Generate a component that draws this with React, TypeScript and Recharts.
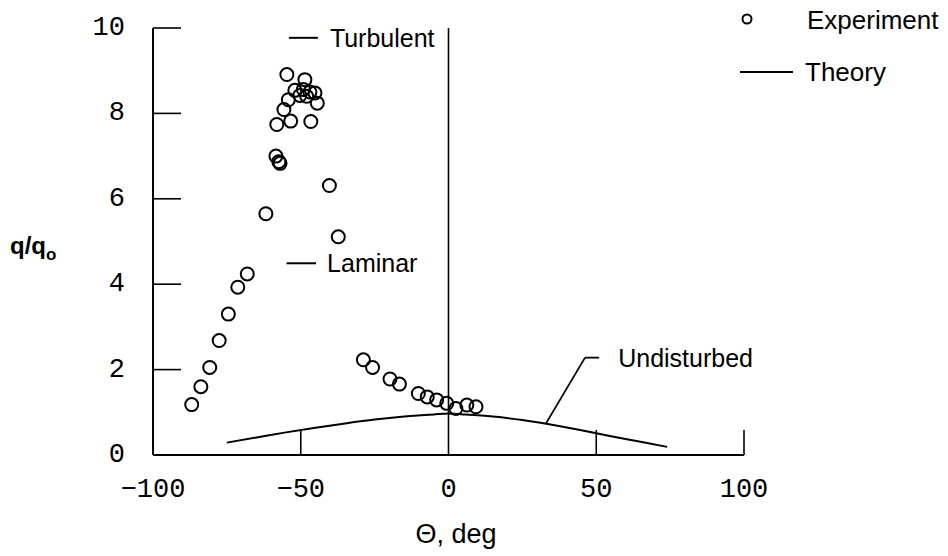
import React from "react";
import {
  ComposedChart,
  Line,
  Scatter,
  XAxis,
  YAxis,
  ReferenceLine,
  Legend,
} from "recharts";

// measured points, theta in deg
const expTheta = [
  -86.9, -83.8, -80.8, -77.6, -74.5, -71.3, -68.1, -61.8, -58.4, -57.0, -57.4,
  -58.1, -55.7, -54.2, -53.4, -54.7, -52.0, -50.3, -49.1, -48.6, -48.0, -46.9,
  -45.2, -46.6, -44.4, -40.3, -37.3, -28.8, -25.7, -19.8, -16.6, -10.2, -7.2,
  -4.0, -0.6, 2.5, 6.2, 9.3,
];
const expQ = [
  1.18, 1.6, 2.05, 2.68, 3.3, 3.93, 4.24, 5.65, 7.0, 6.83, 6.87, 7.74, 8.09,
  8.32, 7.82, 8.91, 8.54, 8.42, 8.56, 8.79, 8.4, 8.5, 8.48, 7.81, 8.24, 6.31,
  5.11, 2.23, 2.05, 1.78, 1.66, 1.44, 1.36, 1.29, 1.21, 1.09, 1.17, 1.13,
];

// undisturbed laminar theory
const theoryTheta = [-75, -65, -55, -45, -35, -25, -15, -5, 0, 5, 15, 25, 35, 45, 55, 65, 74];
const theoryQ = [0.29, 0.41, 0.53, 0.64, 0.74, 0.83, 0.9, 0.95, 0.97, 0.95, 0.9, 0.82, 0.71, 0.58, 0.44, 0.31, 0.19];

const xTicks = [-100, -50, 0, 50, 100];
const yTicks = [0, 2, 4, 6, 8, 10];

const experiment = expTheta.map((x, i) => ({ x, y: expQ[i] }));
const theory = theoryTheta.map((x, i) => ({ x, y: theoryQ[i] }));

const MONO = "'Liberation Mono', monospace";
const SANS = "'Liberation Sans', Arial, sans-serif";

const XTick = (props: any) => {
  const { x, y, payload } = props;
  const v = payload.value;
  const label = String(v).replace("-", "\u2212");
  return (
    <g>
      {v !== -100 && v !== 0 && (
        <line x1={x} y1={y} x2={x} y2={y - 25} stroke="#000" strokeWidth={1.6} />
      )}
      <text x={x} y={y + 42} textAnchor="middle" fontFamily={MONO} fontSize={27} fill="#000">
        {label}
      </text>
    </g>
  );
};

const YTick = (props: any) => {
  const { x, y, payload } = props;
  return (
    <g>
      {payload.value !== 0 && (
        <line x1={x} y1={y} x2={x + 28} y2={y} stroke="#000" strokeWidth={1.6} />
      )}
      <text x={x - 28} y={y} textAnchor="end" dominantBaseline="central" fontFamily={MONO} fontSize={27} fill="#000">
        {payload.value}
      </text>
    </g>
  );
};

const Ring = (props: any) => (
  <circle cx={props.cx} cy={props.cy} r={6.5} fill="none" stroke="#000" strokeWidth={2} />
);

const sideLabel = (text: string, gap: number) => (p: any) => {
  const vb = p.viewBox || {};
  const x = (vb.x ?? 0) + (vb.width ?? 0) + gap;
  const y = (vb.y ?? 0) + (vb.height ?? 0) / 2;
  return (
    <text x={x} y={y} dominantBaseline="central" fontFamily={SANS} fontSize={25} fill="#000">
      {text}
    </text>
  );
};

const LegendBox = () => (
  <svg width={213} height={90} style={{ display: "block" }}>
    <circle cx={12} cy={19} r={4.5} fill="none" stroke="#000" strokeWidth={2} />
    <text x={72} y={20} dominantBaseline="central" fontFamily={SANS} fontSize={26} fill="#000">
      Experiment
    </text>
    <line x1={5} y1={72} x2={58} y2={72} stroke="#000" strokeWidth={2} />
    <text x={70} y={72} dominantBaseline="central" fontFamily={SANS} fontSize={26} fill="#000">
      Theory
    </text>
  </svg>
);

export default function App() {
  return (
    <div style={{ position: "absolute", left: 0, top: 0, background: "#fff" }}>
      <ComposedChart
        width={948}
        height={556}
        margin={{ top: 28, right: 204, bottom: 0, left: 0 }}
      >
        <XAxis
          dataKey="x"
          type="number"
          domain={[-100, 100]}
          ticks={xTicks}
          height={101}
          tickSize={0}
          tickMargin={0}
          tickLine={false}
          tick={<XTick />}
          axisLine={{ stroke: "#000", strokeWidth: 2 }}
          allowDataOverflow
          label={{
            content: () => (
              <text x={456} y={543} textAnchor="middle" fontFamily={SANS} fontSize={27} fill="#000">
                Θ, deg
              </text>
            ),
          }}
        />
        <YAxis
          dataKey="y"
          type="number"
          domain={[0, 10]}
          ticks={yTicks}
          width={153}
          tickSize={0}
          tickMargin={0}
          tickLine={false}
          tick={<YTick />}
          axisLine={{ stroke: "#000", strokeWidth: 2 }}
          label={{
            content: () => (
              <text x={10} y={254} fontFamily={SANS} fontSize={24} fontWeight="bold" fill="#000">
                q/q
                <tspan fontSize={17} dy={6}>o</tspan>
              </text>
            ),
          }}
        />
        <Legend
          layout="vertical"
          align="center"
          verticalAlign="middle"
          wrapperStyle={{ left: 735, top: 0, width: 213 }}
          content={() => <LegendBox />}
        />
        <ReferenceLine x={0} stroke="#000" strokeWidth={1.6} />
        <ReferenceLine
          segment={[{ x: -54, y: 9.77 }, { x: -44.2, y: 9.77 }]}
          stroke="#000"
          strokeWidth={2}
          label={sideLabel("Turbulent", 12)}
        />
        <ReferenceLine
          segment={[{ x: -54.8, y: 4.49 }, { x: -44.8, y: 4.49 }]}
          stroke="#000"
          strokeWidth={2}
          label={sideLabel("Laminar", 11)}
        />
        <ReferenceLine
          segment={[{ x: 33, y: 0.74 }, { x: 46.2, y: 2.28 }]}
          stroke="#000"
          strokeWidth={1.8}
        />
        <ReferenceLine
          segment={[{ x: 46.2, y: 2.28 }, { x: 51, y: 2.28 }]}
          stroke="#000"
          strokeWidth={1.8}
          label={sideLabel("Undisturbed", 19)}
        />
        <Line
          data={theory}
          dataKey="y"
          type="monotone"
          stroke="#000"
          strokeWidth={2}
          dot={false}
          isAnimationActive={false}
          legendType="none"
        />
        <Scatter
          data={experiment}
          dataKey="y"
          shape={<Ring />}
          isAnimationActive={false}
          legendType="none"
        />
      </ComposedChart>
    </div>
  );
}
